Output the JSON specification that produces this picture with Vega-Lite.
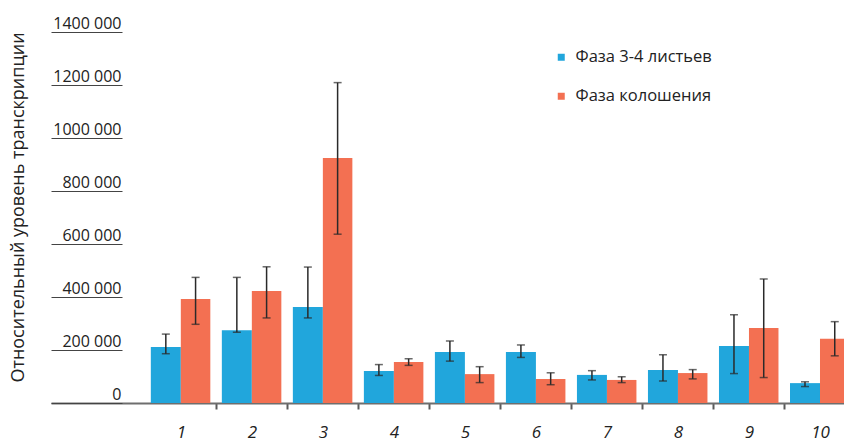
{
  "$schema": "https://vega.github.io/schema/vega-lite/v6.json",
  "width": 793,
  "height": 371,
  "autosize": {"type": "none"},
  "padding": {"left": 51, "top": 32, "right": 0, "bottom": 38},
  "background": "white",
  "config": {"view": {"stroke": null}, "font": "Open Sans"},
  "datasets": {
    "s1": [
      {"g": 1, "phase": "Фаза 3-4 листьев", "v": 211000, "lo": 186000, "hi": 260000},
      {"g": 2, "phase": "Фаза 3-4 листьев", "v": 275000, "lo": 267000, "hi": 474000},
      {"g": 3, "phase": "Фаза 3-4 листьев", "v": 362000, "lo": 321000, "hi": 513000},
      {"g": 4, "phase": "Фаза 3-4 листьев", "v": 121000, "lo": 104000, "hi": 145000},
      {"g": 5, "phase": "Фаза 3-4 листьев", "v": 192000, "lo": 158000, "hi": 234000},
      {"g": 6, "phase": "Фаза 3-4 листьев", "v": 192000, "lo": 172000, "hi": 219000},
      {"g": 7, "phase": "Фаза 3-4 листьев", "v": 106000, "lo": 87000, "hi": 122000},
      {"g": 8, "phase": "Фаза 3-4 листьев", "v": 125000, "lo": 83000, "hi": 182000},
      {"g": 9, "phase": "Фаза 3-4 листьев", "v": 215000, "lo": 111000, "hi": 333000},
      {"g": 10, "phase": "Фаза 3-4 листьев", "v": 75000, "lo": 62000, "hi": 80000}
    ],
    "s2": [
      {"g": 1, "phase": "Фаза колошения", "v": 392000, "lo": 297000, "hi": 474000},
      {"g": 2, "phase": "Фаза колошения", "v": 423000, "lo": 321000, "hi": 514000},
      {"g": 3, "phase": "Фаза колошения", "v": 925000, "lo": 637000, "hi": 1209000},
      {"g": 4, "phase": "Фаза колошения", "v": 155000, "lo": 142000, "hi": 167000},
      {"g": 5, "phase": "Фаза колошения", "v": 109000, "lo": 77000, "hi": 137000},
      {"g": 6, "phase": "Фаза колошения", "v": 91000, "lo": 69000, "hi": 114000},
      {"g": 7, "phase": "Фаза колошения", "v": 87000, "lo": 77000, "hi": 99000},
      {"g": 8, "phase": "Фаза колошения", "v": 113000, "lo": 91000, "hi": 126000},
      {"g": 9, "phase": "Фаза колошения", "v": 283000, "lo": 96000, "hi": 468000},
      {"g": 10, "phase": "Фаза колошения", "v": 242000, "lo": 178000, "hi": 307000}
    ]
  },
  "encoding": {
    "x": {
      "field": "g", "type": "quantitative",
      "scale": {"domain": [-0.828, 10.338], "nice": false, "zero": false, "padding": 0},
      "axis": {
        "title": null, "values": [1,2,3,4,5,6,7,8,9,10], "grid": false,
        "domain": true, "domainColor": "#6e6e6e", "domainWidth": 2,
        "ticks": true, "tickSize": 6, "tickColor": "#5a5a5a", "tickWidth": 2,
        "tickOffset": 35.5, "labelOffset": -35.5,
        "labelFontSize": 17, "labelFontStyle": "italic", "labelColor": "#222222",
        "labelPadding": 15, "labelFlush": false, "labelOverlap": false, "labelBaseline": "top"
      }
    },
    "y": {
      "field": "v", "type": "quantitative",
      "scale": {"domain": [0, 1400000], "nice": false, "padding": 0},
      "axis": {
        "title": "Относительный уровень транскрипции",
        "titleFontSize": 18, "titleFontWeight": "normal", "titleColor": "#222222",
        "titleX": -24, "titleY": 175, "titleAngle": 270, "titleBaseline": "bottom", "titleAlign": "center",
        "values": [0,200000,400000,600000,800000,1000000,1200000,1400000],
        "labelExpr": "datum.value == 0 ? '0' : floor(datum.value/1000) + ' 000'",
        "grid": false, "domain": false,
        "ticks": true, "tickSize": -71, "tickColor": "#444444", "tickWidth": 1,
        "labelAlign": "right", "labelBaseline": "alphabetic", "labelOffset": -4, "labelPadding": 1,
        "labelFontSize": 16, "labelColor": "#222222", "labelFlush": false, "labelOverlap": false
      }
    },
    "color": {
      "field": "phase", "type": "nominal",
      "scale": {"domain": ["Фаза 3-4 листьев", "Фаза колошения"], "range": ["#21a6dc", "#f37052"]},
      "legend": {
        "title": null, "orient": "none", "legendX": 502, "legendY": 17,
        "symbolType": "square", "symbolSize": 49, "symbolStrokeWidth": 0,
        "labelFontSize": 16.5, "labelColor": "#222222", "labelOffset": 6, "rowPadding": 22, "padding": 0
      }
    }
  },
  "layer": [
    {"data": {"name": "s1"}, "mark": {"type": "bar", "width": 30, "xOffset": -15, "clip": true}},
    {"data": {"name": "s2"}, "mark": {"type": "bar", "width": 29.5, "xOffset": 14.75, "clip": true}},
    {"data": {"name": "s1"}, "mark": {"type": "rule", "xOffset": -15, "color": "#2a2a2a", "strokeWidth": 1.5},
     "encoding": {"y": {"field": "lo", "type": "quantitative"}, "y2": {"field": "hi"}, "color": {"value": "#2a2a2a"}}},
    {"data": {"name": "s2"}, "mark": {"type": "rule", "xOffset": 14.75, "color": "#2a2a2a", "strokeWidth": 1.5, "clip": true},
     "encoding": {"y": {"field": "lo", "type": "quantitative"}, "y2": {"field": "hi"}, "color": {"value": "#2a2a2a"}}},
    {"data": {"name": "s1"}, "mark": {"type": "tick", "orient": "horizontal", "size": 8, "thickness": 1.5, "xOffset": -15, "color": "#2a2a2a"},
     "encoding": {"y": {"field": "lo", "type": "quantitative"}, "color": {"value": "#2a2a2a"}}},
    {"data": {"name": "s1"}, "mark": {"type": "tick", "orient": "horizontal", "size": 8, "thickness": 1.5, "xOffset": -15, "color": "#2a2a2a"},
     "encoding": {"y": {"field": "hi", "type": "quantitative"}, "color": {"value": "#2a2a2a"}}},
    {"data": {"name": "s2"}, "mark": {"type": "tick", "orient": "horizontal", "size": 8, "thickness": 1.5, "xOffset": 14.75, "color": "#2a2a2a", "clip": true},
     "encoding": {"y": {"field": "lo", "type": "quantitative"}, "color": {"value": "#2a2a2a"}}},
    {"data": {"name": "s2"}, "mark": {"type": "tick", "orient": "horizontal", "size": 8, "thickness": 1.5, "xOffset": 14.75, "color": "#2a2a2a", "clip": true},
     "encoding": {"y": {"field": "hi", "type": "quantitative"}, "color": {"value": "#2a2a2a"}}}
  ]
}
